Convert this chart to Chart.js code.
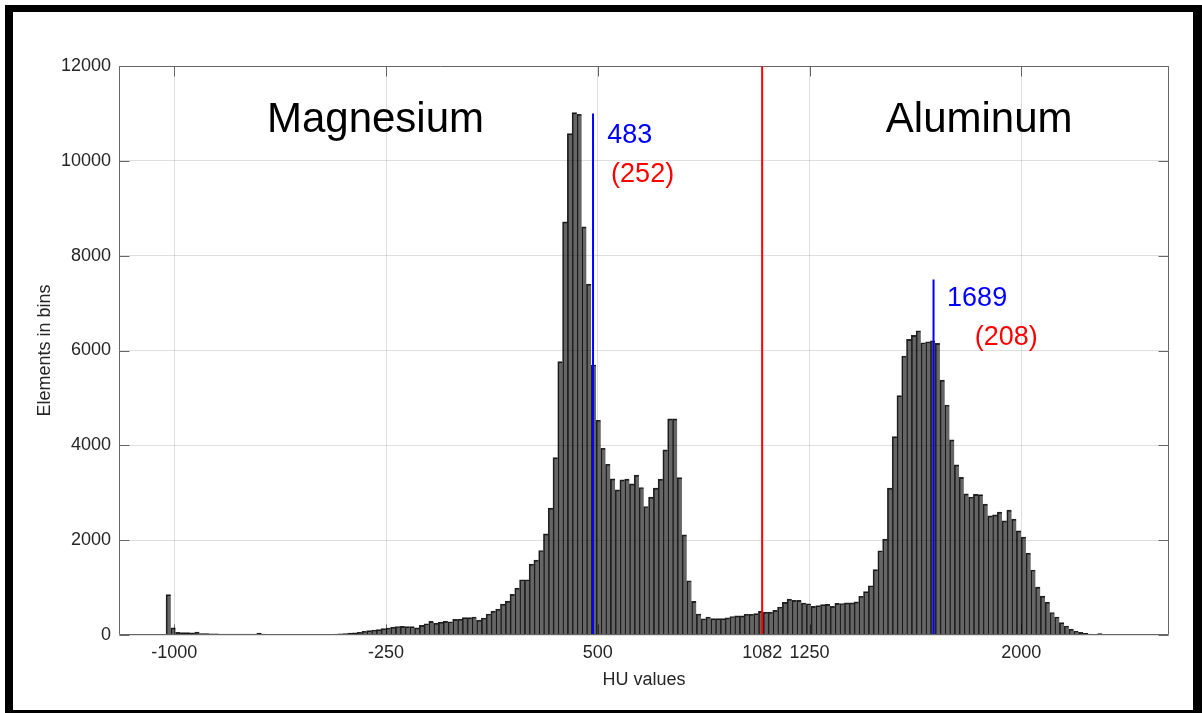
<!DOCTYPE html>
<html><head><meta charset="utf-8">
<script src="https://cdn.jsdelivr.net/npm/chart.js@4.4.1/dist/chart.umd.min.js"></script>
<style>
html,body{margin:0;padding:0;background:#fff;overflow:hidden;width:1202px;height:713px;}
#wrap{position:relative;width:1202px;height:713px;}
canvas{position:absolute;left:0;top:0;}
#frame{position:absolute;left:5px;top:5px;width:1180px;height:698px;border-style:solid;border-color:#000;border-width:7px 9px 8px 8px;pointer-events:none;}
</style></head>
<body><div id="wrap"><canvas id="c" width="1202" height="713"></canvas><div id="frame"></div></div>
<script>
// ---- data ----
const BIN_START = -1029.4;   // left edge of first histogram bin (HU)
const BIN_WIDTH = 16.92;     // bin width (HU)
const counts = [
  850,150,55,50,50,45,60,30,28,25,
  25,22,22,20,20,20,18,18,20,40,
  18,16,15,15,15,14,14,14,14,10,
  5,12,12,14,16,20,25,30,38,48,
  58,80,92,105,115,133,147,165,180,182,
  175,175,150,203,238,287,252,273,287,280,
  329,336,365,365,379,315,358,442,505,547,
  652,716,856,989,1165,1165,1495,1579,1782,2134,
  2675,3741,5764,8713,10575,11018,10982,8608,7400,5694,
  4529,3939,3602,3293,3061,3272,3286,3187,3371,3110,
  2710,2907,3097,3286,3904,4557,4557,3320,2113,1144,
  708,442,343,379,347,347,347,360,390,403,
  403,438,438,452,498,484,484,519,590,688,
  758,730,730,674,660,604,618,639,646,604,
  667,664,678,678,698,818,916,1039,1379,1776,
  2022,3097,4184,5048,5884,6235,6320,6417,6164,6185,
  6206,6151,5375,4851,4114,3588,3325,2977,2910,2965,
  2960,2760,2513,2534,2591,2408,2633,2443,2197,2064,
  1727,1370,1011,820,695,475,380,260,190,125,
  85,55,35,20,12,28
];
const xTicks = [-1000, -250, 500, 1082, 1250, 2000];
const yTicks = [0, 2000, 4000, 6000, 8000, 10000, 12000];
const X_MIN = -1196, X_MAX = 2523;
const meanValues = [483, 1689];      // blue markers
const meanTops = [11000, 7500];
const threshold = 1082;              // red separator
const labelTexts = ['Magnesium', 'Aluminum', '483', '(252)', '1689', '(208)'];
const labelX = [-672, 1520, 533, 547, 1737, 1835];
const labelY = [10603, 10603, 10377, 9555, 6937, 6115];

// ---- styles ----
const labelStyles = [
  {color:'#000', size:42}, {color:'#000', size:42},
  {color:'#0000ff', size:27}, {color:'#ff0000', size:27},
  {color:'#0000ff', size:27}, {color:'#ff0000', size:27}
];
const FONT = '"Liberation Sans", Arial, Helvetica, sans-serif';
const TXT = '#262626';
const AXIS = '#666666';

const histData = counts.map((c, i) => ({x: BIN_START + BIN_WIDTH * (i + 0.5), y: c}));

const decor = {
  id: 'decor',
  beforeDatasetsDraw(chart) {
    const {ctx, chartArea: a, scales: {x, y}} = chart;
    ctx.save();
    ctx.strokeStyle = AXIS; ctx.lineWidth = 1;
    const L = Math.round(a.left) + 0.5, R = Math.round(a.right) - 0.5;
    const T = Math.round(a.top) + 0.5, B = Math.round(a.bottom) - 0.5;
    ctx.beginPath();
    xTicks.forEach(v => {
      const p = Math.round(x.getPixelForValue(v)) + 0.5;
      ctx.moveTo(p, B); ctx.lineTo(p, B - 10);
      ctx.moveTo(p, T); ctx.lineTo(p, T + 10);
    });
    yTicks.forEach(v => {
      const p = Math.round(y.getPixelForValue(v)) + 0.5;
      ctx.moveTo(L, p); ctx.lineTo(L + 10, p);
      ctx.moveTo(R, p); ctx.lineTo(R - 10, p);
    });
    ctx.stroke();
    ctx.restore();
  },
  afterDraw(chart) {
    const {ctx, chartArea: a, scales: {x, y}} = chart;
    ctx.save();
    ctx.strokeStyle = AXIS; ctx.lineWidth = 1;
    const L = Math.round(a.left) + 0.5, R = Math.round(a.right) - 0.5;
    const T = Math.round(a.top) + 0.5, B = Math.round(a.bottom) - 0.5;
    ctx.beginPath();
    ctx.moveTo(L, T); ctx.lineTo(L, B); ctx.lineTo(R, B); ctx.lineTo(R, T);
    ctx.moveTo(L, T); ctx.lineTo(x.getPixelForValue(threshold) - 1, T);
    ctx.moveTo(x.getPixelForValue(threshold) + 1, T); ctx.lineTo(R, T);
    ctx.stroke();
    ctx.textAlign = 'left'; ctx.textBaseline = 'alphabetic';
    labelTexts.forEach((t, i) => {
      ctx.fillStyle = labelStyles[i].color;
      ctx.font = labelStyles[i].size + 'px ' + FONT;
      ctx.fillText(t, x.getPixelForValue(labelX[i]), y.getPixelForValue(labelY[i]));
    });
    ctx.restore();
  }
};

const lineDatasets = [
  {type:'line', data:[{x:threshold, y:0}, {x:threshold, y:12000}], borderColor:'#ff0000', borderWidth:2, pointRadius:0, order:0},
  ...meanValues.map((v, i) => ({type:'line', data:[{x:v, y:0}, {x:v, y:meanTops[i]}], borderColor:'#0000ff', borderWidth:2, pointRadius:0, order:0}))
];

new Chart(document.getElementById('c'), {
  type: 'bar',
  data: {
    datasets: [
      ...lineDatasets,
      {type:'bar', data: histData, backgroundColor:'rgba(0,0,0,0.6)', borderColor:'rgba(0,0,0,0.85)',
       borderWidth:{left:1, top:1, right:0, bottom:0}, borderSkipped:false,
       barPercentage:1, categoryPercentage:1, grouped:false, order:1}
    ]
  },
  options: {
    responsive: false,
    animation: false,
    events: [],
    layout: {padding: {left:0, top:66, right:33, bottom:0}},
    plugins: {legend:{display:false}, tooltip:{enabled:false}},
    scales: {
      x: {
        type: 'linear', min: X_MIN, max: X_MAX, offset: false,
        afterBuildTicks: s => { s.ticks = xTicks.map(v => ({value: v})); },
        afterFit: s => { s.height = 78; },
        grid: {color:'rgba(38,38,38,0.15)', drawTicks:false, offset:false},
        border: {display:false},
        ticks: {autoSkip:false, maxRotation:0, padding:7, color:TXT, font:{family:FONT, size:18},
                callback: v => String(v)},
        title: {display:true, text:'HU values', color:TXT, font:{family:FONT, size:18}, padding:{top:0, bottom:22}}
      },
      y: {
        min: 0, max: 12000,
        afterBuildTicks: s => { s.ticks = yTicks.map(v => ({value: v})); },
        afterFit: s => { s.width = 119; },
        grid: {color:'rgba(38,38,38,0.15)', drawTicks:false},
        border: {display:false},
        ticks: {padding:8, color:TXT, font:{family:FONT, size:18}, callback: v => String(v)},
        title: {display:true, text:'Elements in bins', color:TXT, font:{family:FONT, size:18}, padding:{top:34, bottom:0}}
      }
    }
  },
  plugins: [decor]
});
</script>
</body></html>
